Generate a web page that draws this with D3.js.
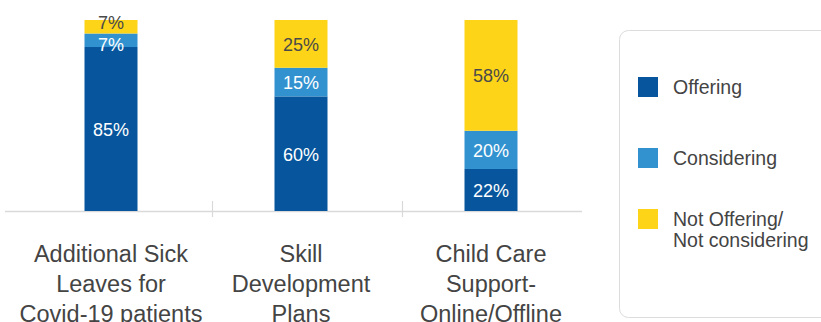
<!DOCTYPE html>
<html>
<head>
<meta charset="utf-8">
<script src="https://cdn.jsdelivr.net/npm/d3@7"></script>
<style>
  body { margin: 0; background: #fff; }
  svg { display: block; font-family: "Liberation Sans", Arial, Helvetica, sans-serif; }
</style>
</head>
<body>
<svg id="chart" width="821" height="322"></svg>
<script>
// Data
var categories = ["Additional Sick Leaves for Covid-19 patients", "Skill Development Plans", "Child Care Support-Online/Offline"];
var categoryLines = [
  ["Additional Sick", "Leaves for", "Covid-19 patients"],
  ["Skill", "Development", "Plans"],
  ["Child Care", "Support-", "Online/Offline"]
];
var seriesNames = ["Offering", "Considering", "Not Offering/Not considering"];
var legendLines = [["Offering"], ["Considering"], ["Not Offering/", "Not considering"]];
var offering = [85, 60, 22];
var considering = [7, 15, 20];
var notOffering = [7, 25, 58];
var colors = ["#07569d", "#3292d0", "#fdd417"];
var labelColors = ["#ffffff", "#ffffff", "#4a4a4a"];

var rows = categories.map(function(c, i) {
  return { cat: c, s0: offering[i], s1: considering[i], s2: notOffering[i] };
});

var svg = d3.select("#chart");
var baseY = 211, topY = 20, barW = 53, barShift = -6;

var x = d3.scaleBand().domain(categories).range([22, 592]).paddingInner(0);
var y = d3.scaleLinear().domain([0, 1]).range([baseY, topY]);

var stack = d3.stack().keys(["s0", "s1", "s2"]).offset(d3.stackOffsetExpand);
var series = stack(rows);

var barX = function(c) { return x(c) + (x.bandwidth() - barW) / 2 + barShift; };

// Axis line + ticks between categories
svg.append("line").attr("x1", 5).attr("x2", 582).attr("y1", baseY + 0.5).attr("y2", baseY + 0.5)
  .attr("stroke", "#d9d9d9").attr("stroke-width", 1.5);
svg.selectAll(".tick").data(categories.slice(1)).enter().append("line")
  .attr("x1", function(c) { return Math.round(x(c)) + 0.5; })
  .attr("x2", function(c) { return Math.round(x(c)) + 0.5; })
  .attr("y1", baseY - 10).attr("y2", baseY + 6)
  .attr("stroke", "#d9d9d9").attr("stroke-width", 1.2);

// Bars
var groups = svg.selectAll(".series").data(series).enter().append("g").attr("fill", function(d, i) { return colors[i]; });
groups.selectAll("rect").data(function(d) { return d; }).enter().append("rect")
  .attr("x", function(d) { return barX(d.data.cat); })
  .attr("width", barW)
  .attr("y", function(d) { return y(d[1]); })
  .attr("height", function(d) { return y(d[0]) - y(d[1]); });

// Segment labels, nudged apart when segments are thin
categories.forEach(function(c, ci) {
  var labs = series.map(function(s, si) {
    var d = s[ci];
    return { si: si, v: d.data["s" + si], cy: (y(d[0]) + y(d[1])) / 2 };
  });
  for (var k = 0; k < labs.length - 1; k++) {
    var a = labs[k], b = labs[k + 1];
    var gap = a.cy - b.cy;
    if (gap < 22) {
      var push = (22 - gap) / 2;
      a.cy += push; b.cy -= push;
    }
  }
  labs.forEach(function(l) {
    svg.append("text")
      .attr("x", barX(c) + barW / 2)
      .attr("y", l.cy)
      .attr("dy", "0.38em")
      .attr("text-anchor", "middle")
      .attr("font-size", 18)
      .attr("fill", labelColors[l.si])
      .text(l.v + "%");
  });
});

// Category labels
categories.forEach(function(c, ci) {
  var t = svg.append("text").attr("text-anchor", "middle").attr("font-size", 23.5).attr("fill", "#444");
  categoryLines[ci].forEach(function(line, li) {
    t.append("tspan").attr("x", barX(c) + barW / 2).attr("y", 262 + li * 30).text(line);
  });
});

// Legend
svg.append("rect").attr("x", 619.5).attr("y", 30.5).attr("width", 220).attr("height", 287)
  .attr("rx", 9).attr("fill", "#fff").attr("stroke", "#dcdcdc").attr("stroke-width", 1);
var legendY = [87, 158, 219];
var legend = svg.selectAll(".legend").data(seriesNames).enter().append("g")
  .attr("transform", function(d, i) { return "translate(638," + legendY[i] + ")"; });
legend.append("rect").attr("x", 0).attr("y", -10).attr("width", 20).attr("height", 20)
  .attr("fill", function(d, i) { return colors[i]; });
legend.each(function(d, i) {
  var t = d3.select(this).append("text").attr("font-size", 19.5).attr("fill", "#444");
  legendLines[i].forEach(function(line, li) {
    t.append("tspan").attr("x", 35).attr("y", 7 + li * 21).text(line);
  });
});
</script>
</body>
</html>
